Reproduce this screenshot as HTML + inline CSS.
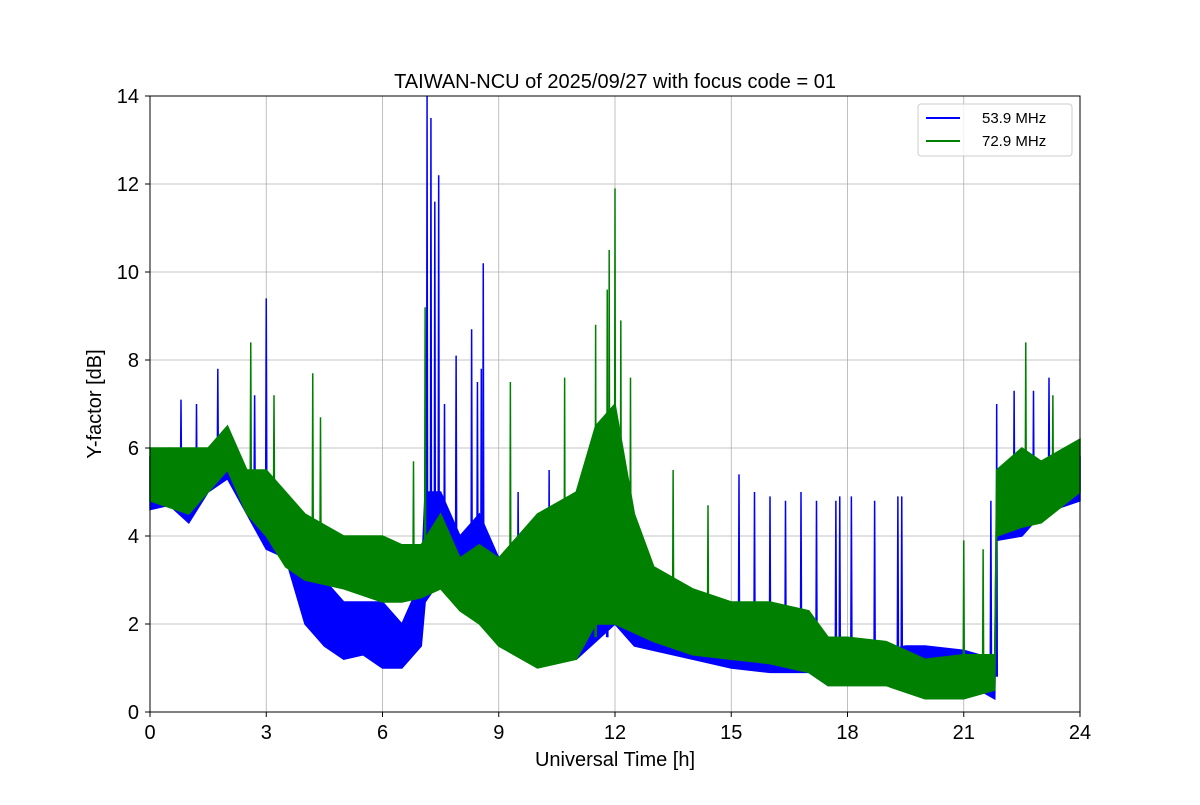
<!DOCTYPE html>
<html><head><meta charset="utf-8"><style>
body{margin:0;background:#fff}
svg text{font-family:"Liberation Sans","DejaVu Sans",sans-serif}
</style></head><body>
<svg id="chart" width="1200" height="800" xmlns="http://www.w3.org/2000/svg">
<rect width="1200" height="800" fill="#fff"/>
<text x="615" y="88" font-size="20" text-anchor="middle">TAIWAN-NCU of 2025/09/27 with focus code = 01</text>
<g id="grid"></g><g id="series"></g>
<rect x="150" y="96" width="930" height="616" fill="none" stroke="#000" stroke-width="1"/>
<g id="ticks"></g>
<text x="615" y="766" font-size="20" text-anchor="middle">Universal Time [h]</text>
<text x="101" y="404" font-size="20" text-anchor="middle" transform="rotate(-90 101 404)">Y-factor [dB]</text>
<g>
<rect x="918" y="104" width="154" height="52" rx="3" fill="#fff" fill-opacity="0.8" stroke="#ccc"/>
<line x1="926" y1="118" x2="960" y2="118" stroke="#0000ff" stroke-width="2"/>
<text x="982" y="123" font-size="15">53.9 MHz</text>
<line x1="926" y1="141" x2="960" y2="141" stroke="#008000" stroke-width="2"/>
<text x="982" y="146" font-size="15">72.9 MHz</text>
</g>
</svg>
<script>
const xTicks=[0,3,6,9,12,15,18,21,24];
const yTicks=[0,2,4,6,8,10,12,14];
const blueT=[0,0.5,1,1.5,2,2.5,3,3.5,4,4.5,5,5.5,6,6.5,7,7.1,7.5,8,8.5,9,9.5,10,11,12,12.5,13,14,15,16,17,17.5,18,19,19.5,20,21,21.8,21.85,22.5,23,24];
const blueLo=[4.6,4.7,4.3,5.0,5.3,4.5,3.7,3.5,2.0,1.5,1.2,1.3,1.0,1.0,1.5,2.5,3.0,2.5,2.0,2.0,1.3,1.2,1.2,2.0,1.5,1.4,1.2,1.0,0.9,0.9,0.6,0.7,0.7,0.8,0.9,0.7,0.3,3.9,4.0,4.5,4.8];
const blueHi=[5.8,6.0,5.5,5.9,6.0,5.5,5.0,4.5,3.5,3.0,2.5,2.5,2.5,2.0,3.0,5.0,5.0,4.0,4.5,3.5,3.5,3.5,4.0,5.5,3.5,2.5,2.4,2.2,2.0,1.9,1.7,1.6,1.4,1.5,1.5,1.4,1.2,5.0,5.0,5.5,5.8];
const greenT=[0,1,1.5,2,2.5,3,3.5,4,5,6,6.5,7,7.5,8,8.5,9,10,11,11.5,12,12.5,13,14,15,16,17,17.5,18,19,20,21,21.8,21.85,22.5,23,24];
const greenLo=[4.8,4.5,5.0,5.5,4.5,4.0,3.3,3.0,2.8,2.5,2.5,2.6,2.8,2.3,2.0,1.5,1.0,1.2,2.0,2.0,1.8,1.6,1.3,1.2,1.1,0.9,0.6,0.6,0.6,0.3,0.3,0.5,4.0,4.2,4.3,5.0];
const greenHi=[6.0,6.0,6.0,6.5,5.5,5.5,5.0,4.5,4.0,4.0,3.8,3.8,4.5,3.5,3.8,3.5,4.5,5.0,6.5,7.0,4.5,3.3,2.8,2.5,2.5,2.3,1.7,1.7,1.6,1.2,1.3,1.3,5.5,6.0,5.7,6.2];
const blueSpikeT=[0.8,1.2,1.75,2.7,3.0,7.15,7.25,7.35,7.45,7.6,7.9,8.3,8.45,8.55,8.6,9.5,10.3,11.8,15.2,15.6,16.0,16.4,16.8,17.2,17.7,17.8,18.1,18.7,19.3,19.4,21.7,21.85,22.3,22.8,23.2];
const blueSpikeV=[7.1,7.0,7.8,7.2,9.4,14,13.5,11.6,12.2,7.0,8.1,8.7,7.5,7.8,10.2,5.0,5.5,6.0,5.4,5.0,4.9,4.8,5.0,4.8,4.8,4.9,4.9,4.8,4.9,4.9,4.8,7.0,7.3,7.3,7.6];
const greenSpikeT=[2.6,3.2,4.2,4.4,6.8,7.1,9.3,10.7,11.5,11.8,11.85,12.0,12.15,12.4,13.5,14.4,21.0,21.5,22.6,23.3];
const greenSpikeV=[8.4,7.2,7.7,6.7,5.7,9.2,7.5,7.6,8.8,9.6,10.5,11.9,8.9,7.6,5.5,4.7,3.9,3.7,8.4,7.2];
const X=t=>150+t*930/24, Y=v=>712-v*44;
const NS="http://www.w3.org/2000/svg";
function mk(tag,attrs,parent){const e=document.createElementNS(NS,tag);for(const k in attrs)e.setAttribute(k,attrs[k]);parent.appendChild(e);return e;}
const grid=document.getElementById('grid'),ticks=document.getElementById('ticks'),ser=document.getElementById('series');
xTicks.forEach(t=>{
 const g=mk('line',{x1:X(t),x2:X(t),y1:96,y2:712,stroke:'#b0b0b0','stroke-width':0.8},grid);
 
 
 mk('line',{x1:X(t),x2:X(t),y1:712,y2:717,stroke:'#000'},ticks);
 const l=mk('text',{x:X(t),y:739,'font-size':20,'text-anchor':'middle'},ticks);l.textContent=t;
 
 
});
yTicks.forEach(v=>{
 const g=mk('line',{x1:150,x2:1080,y1:Y(v),y2:Y(v),stroke:'#b0b0b0','stroke-width':0.8},grid);
 
 
 mk('line',{x1:145,x2:150,y1:Y(v),y2:Y(v),stroke:'#000'},ticks);
 const l=mk('text',{x:139,y:Y(v)+7,'font-size':20,'text-anchor':'end'},ticks);l.textContent=v;
 
 
});
function band(T,lo,hi,col,name){
 let d='M'+T.map((t,i)=>X(t)+','+Y(hi[i])).join('L');
 for(let i=T.length-1;i>=0;i--)d+='L'+X(T[i])+','+Y(lo[i]);
 const p=mk('path',{d:d+'Z',fill:col,stroke:col,'stroke-width':1.5},ser);
 
 
}
function spikes(T,V,BT,BLo,col,name){
 T.forEach((t,i)=>{
  let j=0;while(j<BT.length-1&&BT[j+1]<t)j++;
  const base=BLo[j];
  const l=mk('polyline',{points:`${X(t-0.015)},${Y(base+0.5)} ${X(t)},${Y(V[i])} ${X(t+0.015)},${Y(base+0.5)}`,fill:'none',stroke:col,'stroke-width':1.5},ser);
  
  
 });
}
band(blueT,blueLo,blueHi,'#0000ff','series-53-9-band');
spikes(blueSpikeT,blueSpikeV,blueT,blueLo,'#0000ff','spike-53-9');
band(greenT,greenLo,greenHi,'#008000','series-72-9-band');
spikes(greenSpikeT,greenSpikeV,greenT,greenLo,'#008000','spike-72-9');
</script>
</body></html>
